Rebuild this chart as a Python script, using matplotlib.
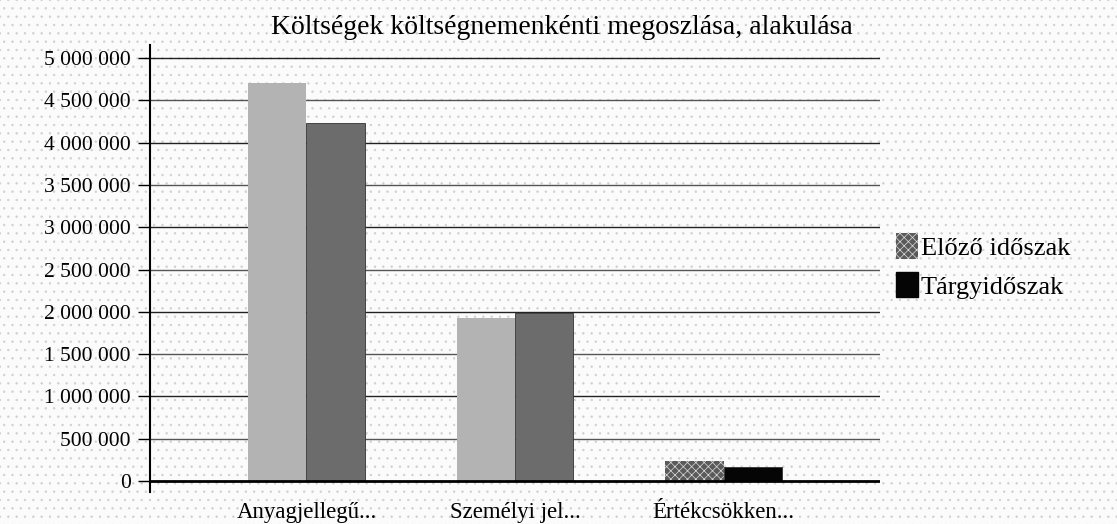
import matplotlib.pyplot as plt
import numpy as np
from matplotlib.patches import Rectangle, Patch

# Data
categories = ["Anyagjellegű...", "Személyi jel...", "Értékcsökken..."]
series_names = ["Előző időszak", "Tárgyidőszak"]
prev_values = [4705000, 1927000, 236000]
curr_values = [4232000, 1986000, 165000]
yticks = [0, 500000, 1000000, 1500000, 2000000, 2500000, 3000000, 3500000, 4000000, 4500000, 5000000]

plt.rcParams['font.family'] = ['Liberation Serif', 'DejaVu Serif']
plt.rcParams['hatch.linewidth'] = 0.5

fig = plt.figure(figsize=(11.17, 5.24), dpi=100)
fig.patch.set_facecolor('#fbfbfb')
# dotted background texture
fig.patches.append(Rectangle((0, 0), 1, 1, transform=fig.transFigure, facecolor='none',
                             edgecolor='#d0d0d0', hatch='..', lw=0, zorder=-10))

ax = fig.add_axes([150 / 1117, 1 - 492 / 524, 730 / 1117, 447 / 524])
ax.set_facecolor('none')

x = np.arange(len(categories))
w = 0.28
prev_colors = ['#b3b3b3', '#b3b3b3', '#5a5a5a']
curr_colors = ['#6c6c6c', '#6c6c6c', '#050505']
prev_hatch = ['', '', 'xxxx']

for i in range(len(categories)):
    ax.bar(x[i] - w / 2, prev_values[i], w, color=prev_colors[i], hatch=prev_hatch[i] or None,
           edgecolor='#dddddd' if prev_hatch[i] else prev_colors[i], lw=0, zorder=3)
    ax.bar(x[i] + w / 2, curr_values[i], w, color=curr_colors[i], edgecolor='#333333', lw=0.6, zorder=3)

ax.set_xlim(-0.75, 2.75)
ax.set_ylim(-130000, 5154000)
ax.set_yticks(yticks)
ax.set_yticklabels([f"{v:,}".replace(",", " ") for v in yticks], fontsize=15.5)
ax.set_xticks(x)
ax.set_xticklabels(categories, fontsize=16.5)
ax.tick_params(axis='x', length=0, pad=7)
ax.tick_params(axis='y', length=9, width=1, pad=5, direction='out')

for v in yticks[1:]:
    ax.axhline(v, color='#555555' if v % 1000000 else '#222222', lw=1, zorder=1)
ax.axhline(0, color='black', lw=2, zorder=4)

for s in ['top', 'right', 'bottom']:
    ax.spines[s].set_visible(False)
ax.spines['left'].set_linewidth(1.5)

fig.text(562 / 1117, 1 - 27 / 524, "Költségek költségnemenkénti megoszlása, alakulása",
         fontsize=20, ha='center', va='center')

handles = [Patch(facecolor='#5a5a5a', edgecolor='#dddddd', hatch='xxxx', lw=0),
           Patch(facecolor='#050505', edgecolor='#050505')]
fig.legend(handles, series_names, loc='center left', bbox_to_anchor=(872 / 1117, 1 - 266 / 524),
           frameon=False, fontsize=19, handlelength=0.85, handleheight=1.1, handletextpad=0.1,
           labelspacing=0.45)

fig.savefig("out.png", dpi=100, facecolor=fig.get_facecolor())
